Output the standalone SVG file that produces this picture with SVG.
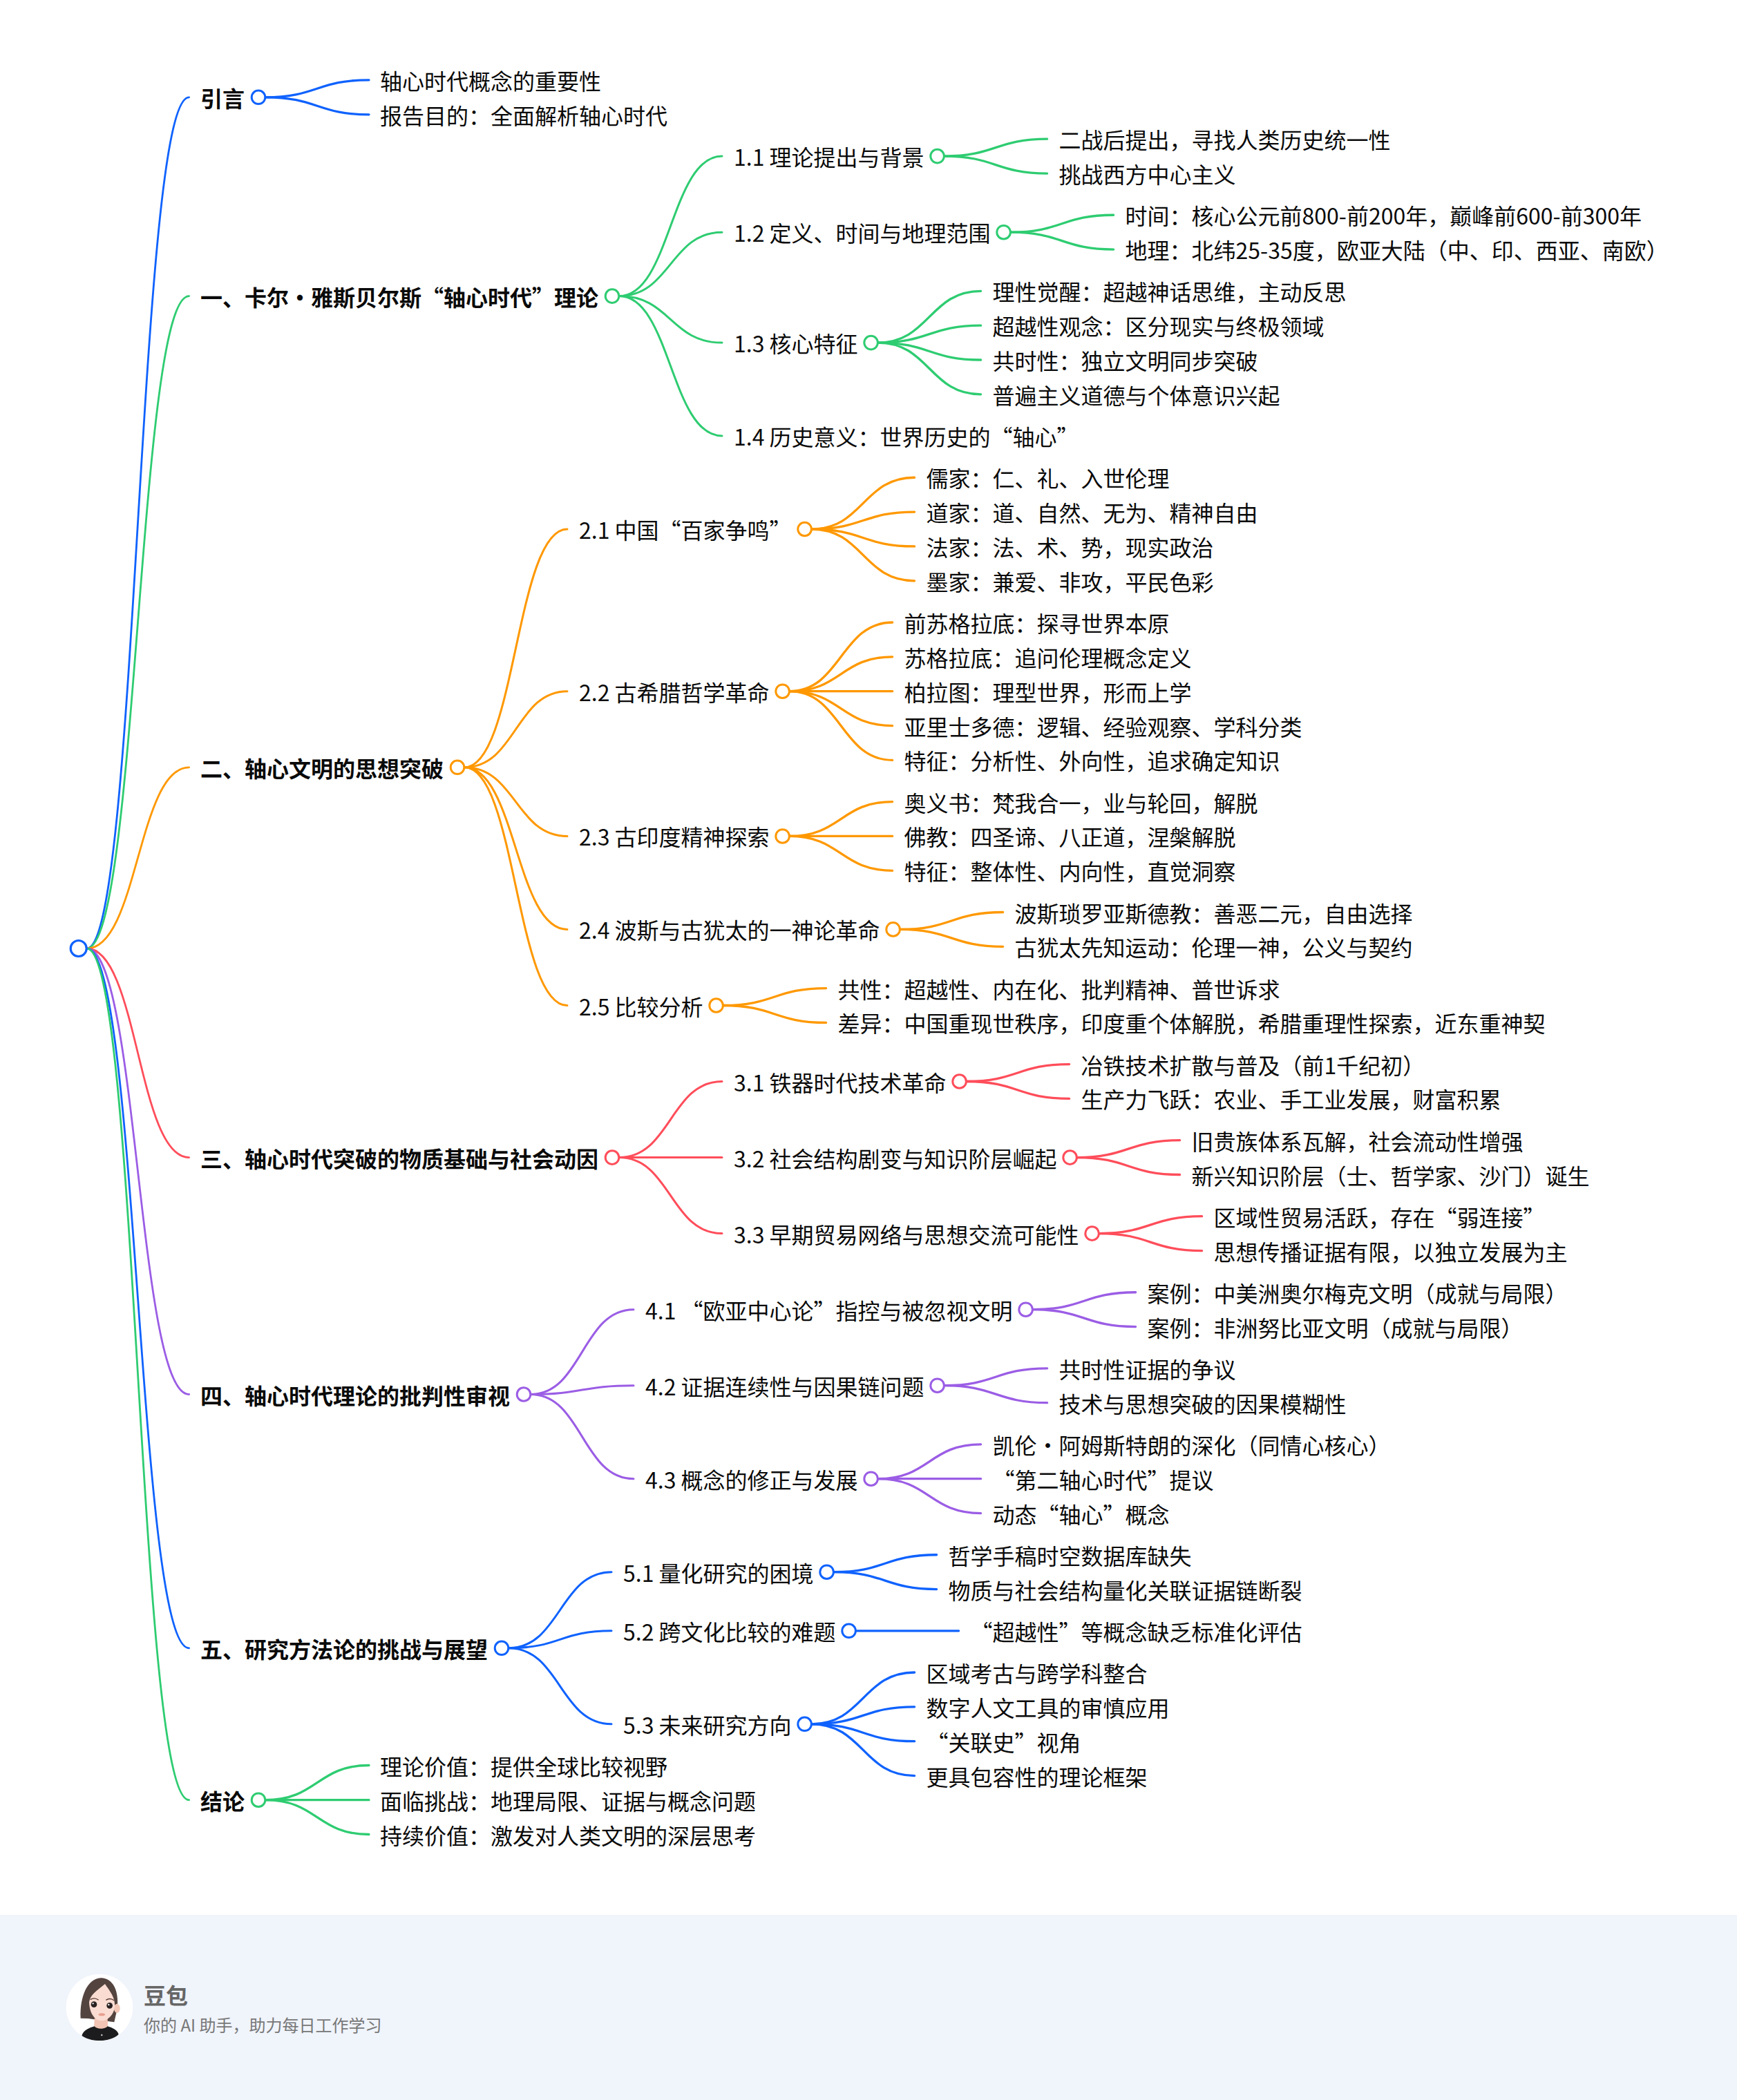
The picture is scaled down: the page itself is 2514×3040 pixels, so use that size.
<svg xmlns="http://www.w3.org/2000/svg" width="2514" height="3040" viewBox="0 0 2514 3040" lang="zh-CN">
<style>
text{font-family:"Noto Sans CJK SC","Noto Sans",sans-serif;font-size:32px;fill:#0a0a0a}
.b{font-weight:700}
path.l{fill:none;stroke-linecap:round}
#links .w1 path{stroke-width:2.8}
#links .w2 path{stroke-width:3}
#links .w3 path{stroke-width:3.3}
.blue{stroke:#0f62fe}.green{stroke:#2ecc71}.orange{stroke:#ff9800}.red{stroke:#ff4d5a}.purple{stroke:#9b5de5}
circle.c{fill:#fff;stroke-width:3}
</style>
<defs><clipPath id="av"><circle cx="162" cy="168" r="145"/></clipPath></defs>
<rect width="2514" height="3040" fill="#fff"/>
<rect y="2772" width="2514" height="268" fill="#f0f4fb"/>
<g id="links">
<g class="w1">
<path class="l blue" d="M125.5,1373C199.5,1373 199.5,140.8 273.6,140.8"/>
<path class="l green" d="M125.5,1373C199.5,1373 199.5,428.6 273.6,428.6"/>
<path class="l orange" d="M125.5,1373C199.5,1373 199.5,1110.8 273.6,1110.8"/>
<path class="l red" d="M125.5,1373C199.5,1373 199.5,1675.6 273.6,1675.6"/>
<path class="l purple" d="M125.5,1373C199.5,1373 199.5,2018.5 273.6,2018.5"/>
<path class="l blue" d="M125.5,1373C199.5,1373 199.5,2385.8 273.6,2385.8"/>
<path class="l green" d="M125.5,1373C199.5,1373 199.5,2605.7 273.6,2605.7"/>
</g>
<g class="w2">
<path class="l green" d="M896,428.6C970.5,428.6 970.5,226.1 1045,226.1"/>
<path class="l green" d="M896,428.6C970.5,428.6 970.5,336.2 1045,336.2"/>
<path class="l green" d="M896,428.6C970.5,428.6 970.5,496.1 1045,496.1"/>
<path class="l green" d="M896,428.6C970.5,428.6 970.5,631 1045,631"/>
<path class="l orange" d="M672,1110.8C746.5,1110.8 746.5,766 821,766"/>
<path class="l orange" d="M672,1110.8C746.5,1110.8 746.5,1000.7 821,1000.7"/>
<path class="l orange" d="M672,1110.8C746.5,1110.8 746.5,1210.5 821,1210.5"/>
<path class="l orange" d="M672,1110.8C746.5,1110.8 746.5,1345.4 821,1345.4"/>
<path class="l orange" d="M672,1110.8C746.5,1110.8 746.5,1455.5 821,1455.5"/>
<path class="l red" d="M896,1675.6C970.5,1675.6 970.5,1565.5 1045,1565.5"/>
<path class="l red" d="M896,1675.6H1045"/>
<path class="l red" d="M896,1675.6C970.5,1675.6 970.5,1785.6 1045,1785.6"/>
<path class="l purple" d="M768,2018.5C842.5,2018.5 842.5,1895.7 917,1895.7"/>
<path class="l purple" d="M768,2018.5C842.5,2018.5 842.5,2005.7 917,2005.7"/>
<path class="l purple" d="M768,2018.5C842.5,2018.5 842.5,2140.7 917,2140.7"/>
<path class="l blue" d="M736,2385.8C810.5,2385.8 810.5,2275.7 885,2275.7"/>
<path class="l blue" d="M736,2385.8C810.5,2385.8 810.5,2360.8 885,2360.8"/>
<path class="l blue" d="M736,2385.8C810.5,2385.8 810.5,2495.8 885,2495.8"/>
</g>
<g class="w3">
<path class="l blue" d="M384,140.8C459,140.8 459,115.8 534,115.8"/>
<path class="l blue" d="M384,140.8C459,140.8 459,165.8 534,165.8"/>
<path class="l green" d="M384,2605.7C459,2605.7 459,2555.5 534,2555.5"/>
<path class="l green" d="M384,2605.7H534"/>
<path class="l green" d="M384,2605.7C459,2605.7 459,2655.5 534,2655.5"/>
<path class="l green" d="M1366.6,226.1C1441.1,226.1 1441.1,201.2 1515.6,201.2"/>
<path class="l green" d="M1366.6,226.1C1441.1,226.1 1441.1,251.05 1515.6,251.05"/>
<path class="l green" d="M1462.6,336.2C1537.1,336.2 1537.1,311.25 1611.6,311.25"/>
<path class="l green" d="M1462.6,336.2C1537.1,336.2 1537.1,361.1 1611.6,361.1"/>
<path class="l green" d="M1270.6,496.1C1345.1,496.1 1345.1,421.3 1419.6,421.3"/>
<path class="l green" d="M1270.6,496.1C1345.1,496.1 1345.1,471.15 1419.6,471.15"/>
<path class="l green" d="M1270.6,496.1C1345.1,496.1 1345.1,521 1419.6,521"/>
<path class="l green" d="M1270.6,496.1C1345.1,496.1 1345.1,570.85 1419.6,570.85"/>
<path class="l orange" d="M1174.6,766C1249.1,766 1249.1,691.25 1323.6,691.25"/>
<path class="l orange" d="M1174.6,766C1249.1,766 1249.1,741.1 1323.6,741.1"/>
<path class="l orange" d="M1174.6,766C1249.1,766 1249.1,790.95 1323.6,790.95"/>
<path class="l orange" d="M1174.6,766C1249.1,766 1249.1,840.8 1323.6,840.8"/>
<path class="l orange" d="M1142.6,1000.7C1217.1,1000.7 1217.1,901 1291.6,901"/>
<path class="l orange" d="M1142.6,1000.7C1217.1,1000.7 1217.1,950.85 1291.6,950.85"/>
<path class="l orange" d="M1142.6,1000.7H1291.6"/>
<path class="l orange" d="M1142.6,1000.7C1217.1,1000.7 1217.1,1050.55 1291.6,1050.55"/>
<path class="l orange" d="M1142.6,1000.7C1217.1,1000.7 1217.1,1100.4 1291.6,1100.4"/>
<path class="l orange" d="M1142.6,1210.45C1217.1,1210.45 1217.1,1160.6 1291.6,1160.6"/>
<path class="l orange" d="M1142.6,1210.45H1291.6"/>
<path class="l orange" d="M1142.6,1210.45C1217.1,1210.45 1217.1,1260.3 1291.6,1260.3"/>
<path class="l orange" d="M1302.6,1345.4C1377.1,1345.4 1377.1,1320.5 1451.6,1320.5"/>
<path class="l orange" d="M1302.6,1345.4C1377.1,1345.4 1377.1,1370.35 1451.6,1370.35"/>
<path class="l orange" d="M1046.6,1455.5C1121.1,1455.5 1121.1,1430.55 1195.6,1430.55"/>
<path class="l orange" d="M1046.6,1455.5C1121.1,1455.5 1121.1,1480.4 1195.6,1480.4"/>
<path class="l red" d="M1398.6,1565.5C1473.1,1565.5 1473.1,1540.6 1547.6,1540.6"/>
<path class="l red" d="M1398.6,1565.5C1473.1,1565.5 1473.1,1590.45 1547.6,1590.45"/>
<path class="l red" d="M1558.6,1675.6C1633.1,1675.6 1633.1,1650.65 1707.6,1650.65"/>
<path class="l red" d="M1558.6,1675.6C1633.1,1675.6 1633.1,1700.5 1707.6,1700.5"/>
<path class="l red" d="M1590.6,1785.6C1665.1,1785.6 1665.1,1760.7 1739.6,1760.7"/>
<path class="l red" d="M1590.6,1785.6C1665.1,1785.6 1665.1,1810.55 1739.6,1810.55"/>
<path class="l purple" d="M1494.6,1895.7C1569.1,1895.7 1569.1,1870.75 1643.6,1870.75"/>
<path class="l purple" d="M1494.6,1895.7C1569.1,1895.7 1569.1,1920.6 1643.6,1920.6"/>
<path class="l purple" d="M1366.6,2005.7C1441.1,2005.7 1441.1,1980.8 1515.6,1980.8"/>
<path class="l purple" d="M1366.6,2005.7C1441.1,2005.7 1441.1,2030.65 1515.6,2030.65"/>
<path class="l purple" d="M1270.6,2140.7C1345.1,2140.7 1345.1,2090.85 1419.6,2090.85"/>
<path class="l purple" d="M1270.6,2140.7H1419.6"/>
<path class="l purple" d="M1270.6,2140.7C1345.1,2140.7 1345.1,2190.55 1419.6,2190.55"/>
<path class="l blue" d="M1206.6,2275.7C1281.1,2275.7 1281.1,2250.75 1355.6,2250.75"/>
<path class="l blue" d="M1206.6,2275.7C1281.1,2275.7 1281.1,2300.6 1355.6,2300.6"/>
<path class="l blue" d="M1238.6,2360.8H1387.6"/>
<path class="l blue" d="M1174.6,2495.8C1249.1,2495.8 1249.1,2421 1323.6,2421"/>
<path class="l blue" d="M1174.6,2495.8C1249.1,2495.8 1249.1,2470.85 1323.6,2470.85"/>
<path class="l blue" d="M1174.6,2495.8C1249.1,2495.8 1249.1,2520.7 1323.6,2520.7"/>
<path class="l blue" d="M1174.6,2495.8C1249.1,2495.8 1249.1,2570.55 1323.6,2570.55"/>
</g>
</g>
<g id="root"><circle class="c blue" cx="113.7" cy="1373" r="11.5" style="stroke-width:3.2"/></g>
<g id="intro"><text class="b" x="290" y="154.8">引言</text><circle class="c blue" cx="374" cy="140.8" r="9.8"/></g>
<g id="intro-1"><text x="550" y="129.8">轴心时代概念的重要性</text></g>
<g id="intro-2"><text x="550" y="179.8">报告目的：全面解析轴心时代</text></g>
<g id="s1"><text class="b" x="290" y="442.6">一、卡尔・雅斯贝尔斯“轴心时代”理论</text><circle class="c green" cx="886" cy="428.6" r="9.8"/></g>
<g id="s1-1"><text x="1062" y="240.1">1.1 理论提出与背景</text><circle class="c green" cx="1356.6" cy="226.1" r="9.8"/></g>
<g id="s1-1-1"><text x="1532.6" y="215.2">二战后提出，寻找人类历史统一性</text></g>
<g id="s1-1-2"><text x="1532.6" y="265.05">挑战西方中心主义</text></g>
<g id="s1-2"><text x="1062" y="350.2">1.2 定义、时间与地理范围</text><circle class="c green" cx="1452.6" cy="336.2" r="9.8"/></g>
<g id="s1-2-1"><text x="1628.6" y="325.25">时间：核心公元前800-前200年，巅峰前600-前300年</text></g>
<g id="s1-2-2"><text x="1628.6" y="375.1">地理：北纬25-35度，欧亚大陆（中、印、西亚、南欧）</text></g>
<g id="s1-3"><text x="1062" y="510.1">1.3 核心特征</text><circle class="c green" cx="1260.6" cy="496.1" r="9.8"/></g>
<g id="s1-3-1"><text x="1436.6" y="435.3">理性觉醒：超越神话思维，主动反思</text></g>
<g id="s1-3-2"><text x="1436.6" y="485.15">超越性观念：区分现实与终极领域</text></g>
<g id="s1-3-3"><text x="1436.6" y="535">共时性：独立文明同步突破</text></g>
<g id="s1-3-4"><text x="1436.6" y="584.85">普遍主义道德与个体意识兴起</text></g>
<g id="s1-4"><text x="1062" y="645">1.4 历史意义：世界历史的“轴心”</text></g>
<g id="s2"><text class="b" x="290" y="1124.8">二、轴心文明的思想突破</text><circle class="c orange" cx="662" cy="1110.8" r="9.8"/></g>
<g id="s2-1"><text x="838" y="780">2.1 中国“百家争鸣”</text><circle class="c orange" cx="1164.6" cy="766" r="9.8"/></g>
<g id="s2-1-1"><text x="1340.6" y="705.25">儒家：仁、礼、入世伦理</text></g>
<g id="s2-1-2"><text x="1340.6" y="755.1">道家：道、自然、无为、精神自由</text></g>
<g id="s2-1-3"><text x="1340.6" y="804.95">法家：法、术、势，现实政治</text></g>
<g id="s2-1-4"><text x="1340.6" y="854.8">墨家：兼爱、非攻，平民色彩</text></g>
<g id="s2-2"><text x="838" y="1014.7">2.2 古希腊哲学革命</text><circle class="c orange" cx="1132.6" cy="1000.7" r="9.8"/></g>
<g id="s2-2-1"><text x="1308.6" y="915">前苏格拉底：探寻世界本原</text></g>
<g id="s2-2-2"><text x="1308.6" y="964.85">苏格拉底：追问伦理概念定义</text></g>
<g id="s2-2-3"><text x="1308.6" y="1014.7">柏拉图：理型世界，形而上学</text></g>
<g id="s2-2-4"><text x="1308.6" y="1064.55">亚里士多德：逻辑、经验观察、学科分类</text></g>
<g id="s2-2-5"><text x="1308.6" y="1114.4">特征：分析性、外向性，追求确定知识</text></g>
<g id="s2-3"><text x="838" y="1224.45">2.3 古印度精神探索</text><circle class="c orange" cx="1132.6" cy="1210.45" r="9.8"/></g>
<g id="s2-3-1"><text x="1308.6" y="1174.6">奥义书：梵我合一，业与轮回，解脱</text></g>
<g id="s2-3-2"><text x="1308.6" y="1224.45">佛教：四圣谛、八正道，涅槃解脱</text></g>
<g id="s2-3-3"><text x="1308.6" y="1274.3">特征：整体性、内向性，直觉洞察</text></g>
<g id="s2-4"><text x="838" y="1359.4">2.4 波斯与古犹太的一神论革命</text><circle class="c orange" cx="1292.6" cy="1345.4" r="9.8"/></g>
<g id="s2-4-1"><text x="1468.6" y="1334.5">波斯琐罗亚斯德教：善恶二元，自由选择</text></g>
<g id="s2-4-2"><text x="1468.6" y="1384.35">古犹太先知运动：伦理一神，公义与契约</text></g>
<g id="s2-5"><text x="838" y="1469.5">2.5 比较分析</text><circle class="c orange" cx="1036.6" cy="1455.5" r="9.8"/></g>
<g id="s2-5-1"><text x="1212.6" y="1444.55">共性：超越性、内在化、批判精神、普世诉求</text></g>
<g id="s2-5-2"><text x="1212.6" y="1494.4">差异：中国重现世秩序，印度重个体解脱，希腊重理性探索，近东重神契</text></g>
<g id="s3"><text class="b" x="290" y="1689.6">三、轴心时代突破的物质基础与社会动因</text><circle class="c red" cx="886" cy="1675.6" r="9.8"/></g>
<g id="s3-1"><text x="1062" y="1579.5">3.1 铁器时代技术革命</text><circle class="c red" cx="1388.6" cy="1565.5" r="9.8"/></g>
<g id="s3-1-1"><text x="1564.6" y="1554.6">冶铁技术扩散与普及（前1千纪初）</text></g>
<g id="s3-1-2"><text x="1564.6" y="1604.45">生产力飞跃：农业、手工业发展，财富积累</text></g>
<g id="s3-2"><text x="1062" y="1689.6">3.2 社会结构剧变与知识阶层崛起</text><circle class="c red" cx="1548.6" cy="1675.6" r="9.8"/></g>
<g id="s3-2-1"><text x="1724.6" y="1664.65">旧贵族体系瓦解，社会流动性增强</text></g>
<g id="s3-2-2"><text x="1724.6" y="1714.5">新兴知识阶层（士、哲学家、沙门）诞生</text></g>
<g id="s3-3"><text x="1062" y="1799.6">3.3 早期贸易网络与思想交流可能性</text><circle class="c red" cx="1580.6" cy="1785.6" r="9.8"/></g>
<g id="s3-3-1"><text x="1756.6" y="1774.7">区域性贸易活跃，存在“弱连接”</text></g>
<g id="s3-3-2"><text x="1756.6" y="1824.55">思想传播证据有限，以独立发展为主</text></g>
<g id="s4"><text class="b" x="290" y="2032.5">四、轴心时代理论的批判性审视</text><circle class="c purple" cx="758" cy="2018.5" r="9.8"/></g>
<g id="s4-1"><text x="934" y="1909.7">4.1 “欧亚中心论”指控与被忽视文明</text><circle class="c purple" cx="1484.6" cy="1895.7" r="9.8"/></g>
<g id="s4-1-1"><text x="1660.6" y="1884.75">案例：中美洲奥尔梅克文明（成就与局限）</text></g>
<g id="s4-1-2"><text x="1660.6" y="1934.6">案例：非洲努比亚文明（成就与局限）</text></g>
<g id="s4-2"><text x="934" y="2019.7">4.2 证据连续性与因果链问题</text><circle class="c purple" cx="1356.6" cy="2005.7" r="9.8"/></g>
<g id="s4-2-1"><text x="1532.6" y="1994.8">共时性证据的争议</text></g>
<g id="s4-2-2"><text x="1532.6" y="2044.65">技术与思想突破的因果模糊性</text></g>
<g id="s4-3"><text x="934" y="2154.7">4.3 概念的修正与发展</text><circle class="c purple" cx="1260.6" cy="2140.7" r="9.8"/></g>
<g id="s4-3-1"><text x="1436.6" y="2104.85">凯伦・阿姆斯特朗的深化（同情心核心）</text></g>
<g id="s4-3-2"><text x="1436.6" y="2154.7">“第二轴心时代”提议</text></g>
<g id="s4-3-3"><text x="1436.6" y="2204.55">动态“轴心”概念</text></g>
<g id="s5"><text class="b" x="290" y="2399.8">五、研究方法论的挑战与展望</text><circle class="c blue" cx="726" cy="2385.8" r="9.8"/></g>
<g id="s5-1"><text x="902" y="2289.7">5.1 量化研究的困境</text><circle class="c blue" cx="1196.6" cy="2275.7" r="9.8"/></g>
<g id="s5-1-1"><text x="1372.6" y="2264.75">哲学手稿时空数据库缺失</text></g>
<g id="s5-1-2"><text x="1372.6" y="2314.6">物质与社会结构量化关联证据链断裂</text></g>
<g id="s5-2"><text x="902" y="2374.8">5.2 跨文化比较的难题</text><circle class="c blue" cx="1228.6" cy="2360.8" r="9.8"/></g>
<g id="s5-2-1"><text x="1404.6" y="2374.8">“超越性”等概念缺乏标准化评估</text></g>
<g id="s5-3"><text x="902" y="2509.8">5.3 未来研究方向</text><circle class="c blue" cx="1164.6" cy="2495.8" r="9.8"/></g>
<g id="s5-3-1"><text x="1340.6" y="2435">区域考古与跨学科整合</text></g>
<g id="s5-3-2"><text x="1340.6" y="2484.85">数字人文工具的审慎应用</text></g>
<g id="s5-3-3"><text x="1340.6" y="2534.7">“关联史”视角</text></g>
<g id="s5-3-4"><text x="1340.6" y="2584.55">更具包容性的理论框架</text></g>
<g id="end"><text class="b" x="290" y="2619.7">结论</text><circle class="c green" cx="374" cy="2605.7" r="9.8"/></g>
<g id="end-1"><text x="550" y="2569.5">理论价值：提供全球比较视野</text></g>
<g id="end-2"><text x="550" y="2619.7">面临挑战：地理局限、证据与概念问题</text></g>
<g id="end-3"><text x="550" y="2669.5">持续价值：激发对人类文明的深层思考</text></g>
<g id="footer">
<g transform="translate(90 2850) scale(.3333)">
<circle cx="162" cy="168" r="145" fill="#fff"/>
<g clip-path="url(#av)">
<path d="M80,215C76,120 110,42 168,40C222,42 246,95 240,170L226,232L112,216Z" fill="#54443f"/>
<path d="M140,215H197L199,262H138Z" fill="#f2c4b4"/>
<path d="M85,292C90,265 125,255 140,250C150,264 187,264 197,250C215,255 240,265 245,285C225,310 185,312 165,312C135,312 105,310 85,292Z" fill="#1c1c1e"/>
<ellipse cx="238" cy="172" rx="13" ry="20" fill="#f3c7b6"/>
<path d="M117,145C122,112 150,96 186,66C205,95 232,125 228,165C225,198 200,226 170,226C140,226 118,190 117,145Z" fill="#fbdcd2"/>
<path d="M122,134Q140,122 158,136" fill="none" stroke="#5a4039" stroke-width="4"/>
<path d="M190,136Q208,124 226,138" fill="none" stroke="#5a4039" stroke-width="4"/>
<circle cx="138" cy="155" r="13" fill="#2a2222"/><circle cx="206" cy="160" r="13" fill="#2a2222"/>
<circle cx="134" cy="151" r="3.5" fill="#fff"/><circle cx="202" cy="156" r="3.5" fill="#fff"/>
<ellipse cx="172" cy="199" rx="14" ry="6" fill="#e89f8f"/>
<circle cx="172" cy="288" r="3.5" fill="#ccc"/>
</g></g>
<text x="208" y="2900.5" style="font-weight:700;fill:#666">豆包</text>
<text x="208" y="2941" style="font-size:24px;fill:#777">你的 AI 助手，助力每日工作学习</text>
</g>
</svg>
